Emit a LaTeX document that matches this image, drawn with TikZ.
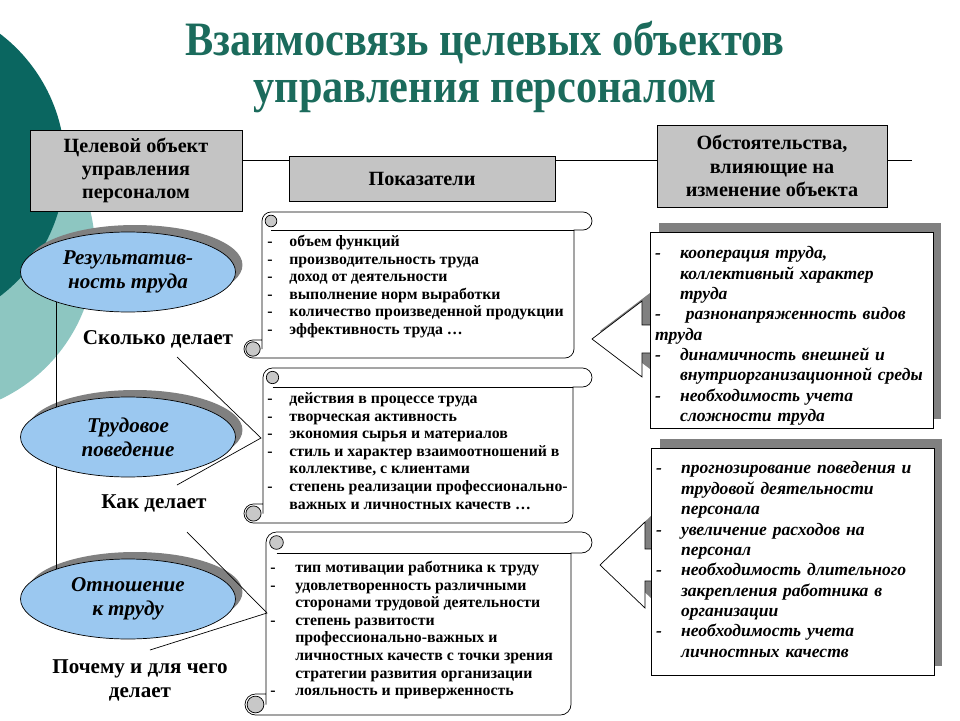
\documentclass[tikz,border=0pt]{standalone}
\usepackage{fontspec}
\setmainfont{Liberation Serif}
\usetikzlibrary{shapes.geometric}
\usetikzlibrary{shadows}

\definecolor{darkteal}{RGB}{10,102,96}
\definecolor{lightteal}{RGB}{141,198,193}
\definecolor{titleteal}{RGB}{27,107,92}
\definecolor{ovalblue}{RGB}{155,200,240}
\definecolor{headgray}{RGB}{196,196,196}
\definecolor{shadegray}{RGB}{128,128,128}
\definecolor{curlgray}{RGB}{200,200,200}

% scroll: left, top, right, bottom, tube height
\newcommand{\scrollbox}[5]{%
  \pgfmathsetmacro{\scrq}{#5/2}
  \draw[fill=white] ({#1+#5},{#4-\scrq}) -- ({#1+#5},{#2+\scrq})
    arc[start angle=180, end angle=270, radius=\scrq] -- ({#3-\scrq},#2)
    arc[start angle=270, end angle=450, radius=\scrq] -- ({#3-#5},{#2+#5})
    -- ({#3-#5},{#4-\scrq}) arc[start angle=0, end angle=90, radius=\scrq]
    -- ({#1+\scrq},#4) arc[start angle=90, end angle=270, radius=\scrq]
    -- ({#1+#5},{#4-#5});
  \draw ({#1+#5+\scrq},{#2+#5}) -- ({#3-#5},{#2+#5});
  \draw[fill=curlgray] ({#1+#5+\scrq},{#2+\scrq}) circle[radius=0.65*\scrq];
  \draw[fill=curlgray] ({#1+\scrq},{#4-\scrq}) circle[radius=0.8*\scrq];
}
% block arrow: tip x, tip y, back x, head half, shaft half
\newcommand{\blockarrow}[5]{%
  \fill[shadegray] ({#1+8},{#2-8}) -- ({#3+8},{#2-#4-8}) -- ({#3+8},{#2-#5-8})
    -- ({#3+30},{#2-#5-8}) -- ({#3+30},{#2+#5-8}) -- ({#3+8},{#2+#5-8})
    -- ({#3+8},{#2+#4-8}) -- cycle;
  \draw[fill=white] (#1,#2) -- (#3,{#2-#4}) -- (#3,{#2-#5}) -- ({#3+25},{#2-#5})
    -- ({#3+25},{#2+#5}) -- (#3,{#2+#5}) -- (#3,{#2+#4}) -- cycle;
}

\begin{document}
\begin{tikzpicture}[x=0.02cm, y=-0.02cm]
  \tikzset{headbox/.style={draw, fill=headgray, align=center, inner sep=0pt,
      font=\bfseries\fontsize{11.5}{13.3}\selectfont}}
  \tikzset{oval/.style={ellipse, draw, fill=ovalblue, align=center, inner sep=0pt,
      minimum width=4.3cm, minimum height=1.6cm,
      font=\bfseries\itshape\fontsize{12}{13.6}\selectfont,
      drop shadow={shadow xshift=0.14cm, shadow yshift=0.14cm, fill=shadegray, opacity=1}}}
  \tikzset{askbox/.style={align=center, font=\bfseries\fontsize{12}{13.6}\selectfont}}
  \tikzset{factbox/.style={draw, fill=white, inner xsep=0.1cm, inner ysep=0pt,
      text width=5.46cm, align=left, minimum height=#1,
      font=\bfseries\itshape\fontsize{10}{11.6}\selectfont,
      drop shadow={shadow xshift=0.17cm, shadow yshift=0.18cm, fill=shadegray, opacity=1}}}
  \tikzset{scrolltext/.style={anchor=north west, inner sep=0pt, align=left,
      font=\bfseries\fontsize{9}{10}\selectfont}}
  \tikzset{titletext/.style={anchor=base, text=titleteal, font=\bfseries\fontsize{26}{26}\selectfont}}

  \useasboundingbox (0,0) rectangle (960,720);
  % circles
  \fill[lightteal] (-70,250) circle[radius=165];
  \fill[darkteal] (-100,165) circle[radius=165];

  % title
  \node[titletext] (title1) at (485,55) {\scalebox{0.926}[1.05]{Взаимосвязь целевых объектов}};
  \node[titletext] (title2) at (485,102) {\scalebox{0.926}[1.05]{управления персоналом}};

  % headers
  \node[headbox, minimum width=4.24cm, minimum height=1.62cm] (obj) at (136,170.5)
    {Целевой объект\\управления\\персоналом};
  \node[headbox, minimum width=5.32cm, minimum height=0.9cm] (ind) at (422,178.5)
    {Показатели};
  \node[headbox, minimum width=4.6cm, minimum height=1.64cm] (circ) at (772,166)
    {Обстоятельства,\\влияющие на\\изменение объекта};
  \coordinate (lvl) at (0,160);
  \coordinate (lend) at (912,160);
  \draw (obj.east |- lvl) -- (ind.west |- lvl);
  \draw (ind.east |- lvl) -- (circ.west |- lvl);
  \draw (circ.east |- lvl) -- (lend);

  % ovals
  \node[oval] (res) at (128,272) {Результатив-\\ность труда};
  \node[oval] (beh) at (128,437) {Трудовое\\поведение};
  \node[oval] (att) at (128,599) {Отношение\\к труду};
  \draw (res.203) -- (beh.157);
  \draw (beh.203) -- (att.157);

  \node[askbox] (howmuch) at (158,339) {Сколько делает};
  \node[askbox] (how) at (154,503) {Как делает};
  \node[askbox] (why) at (140,680) {Почему и для чего\\делает};

  % scrolls
  \scrollbox{244}{212}{592}{358}{18}
  \node[scrolltext] (ind1) at (267,234) {\begin{tabular}{@{}p{0.44cm}@{}l@{}}
    -& объем функций\\
    -& производительность труда\\
    -& доход от деятельности\\
    -& выполнение норм выработки\\
    -& количество произведенной продукции\\
    -& эффективность труда …
  \end{tabular}};
  \scrollbox{244}{368}{592}{523}{19}
  \node[scrolltext] (ind2) at (267,391) {\begin{tabular}{@{}p{0.44cm}@{}l@{}}
    -& действия в процессе труда\\
    -& творческая активность\\
    -& экономия сырья и материалов\\
    -& стиль и характер взаимоотношений в\\
     & коллективе, с клиентами\\
    -& степень реализации профессионально-\\
     & важных и личностных качеств …
  \end{tabular}};
  \scrollbox{245}{532}{592}{715}{21}
  \node[scrolltext] (ind3) at (270,560) {\begin{tabular}{@{}p{0.5cm}@{}l@{}}
    -& тип мотивации работника к труду\\
    -& удовлетворенность различными\\
     & сторонами трудовой деятельности\\
    -& степень развитости\\
     & профессионально-важных и\\
     & личностных качеств с точки зрения\\
     & стратегии развития организации\\
    -& лояльность и приверженность
  \end{tabular}};

  % pointers
  \coordinate (w1a) at (177,357);
  \coordinate (w1tip) at (261,438);
  \coordinate (w1b) at (177,485);
  \draw (w1a) -- (w1tip) -- (w1b);
  \coordinate (w2a) at (187,532);
  \coordinate (w2tip) at (267,613);
  \coordinate (w2b) at (150,650);
  \draw (w2a) -- (w2tip) -- (w2b);

  % circumstances
  \blockarrow{592}{339}{642}{38}{14}
  \node[factbox=3.92cm] (circ1) at (791.5,330) {\noindent\begin{tabular}{@{}p{0.5cm}@{}l@{}}
    -& кооперация труда,\\
     & коллективный характер\\
     & труда\\
    -& \ разнонапряженность видов\\
    \multicolumn{2}{@{}l@{}}{труда}\\
    -& динамичность внешней и\\
     & внутриорганизационной среды\\
    -& необходимость учета\\
     & сложности труда\\[-7pt]
  \end{tabular}};
  \blockarrow{600}{565}{645}{43}{16}
  \node[factbox=4.54cm] (circ2) at (792.5,561.5) {\noindent\begin{tabular}{@{}p{0.5cm}@{}l@{}}
    -& прогнозирование поведения и\\
     & трудовой деятельности\\
     & персонала\\
    -& увеличение расходов на\\
     & персонал\\
    -& необходимость длительного\\
     & закрепления работника в\\
     & организации\\
    -& необходимость учета\\
     & личностных качеств
  \end{tabular}};
\end{tikzpicture}
\end{document}
